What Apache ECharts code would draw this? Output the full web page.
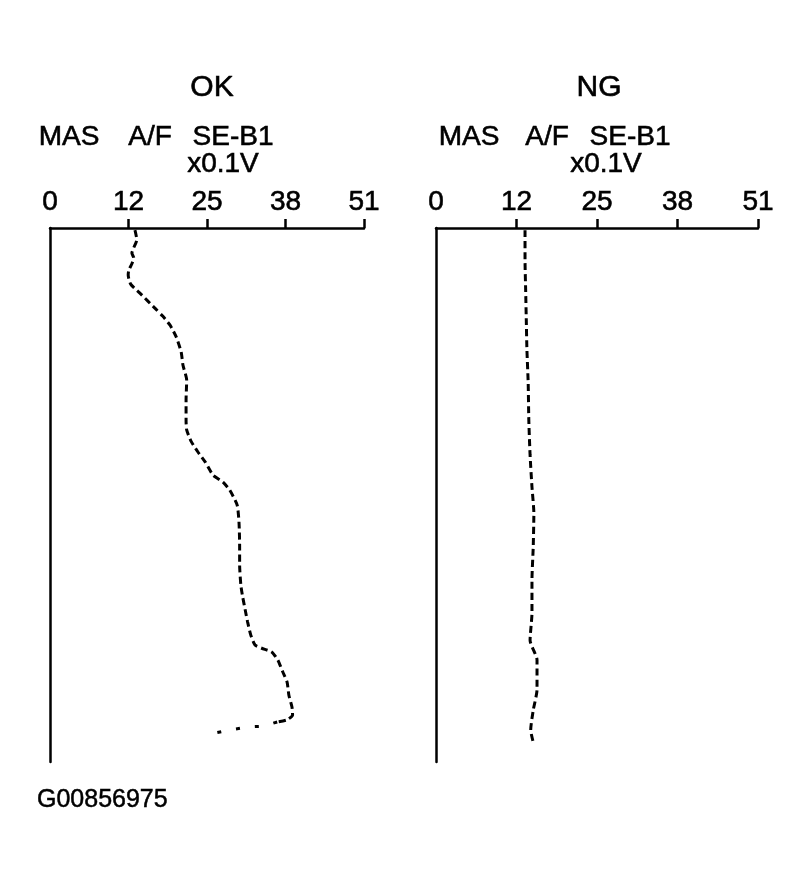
<!DOCTYPE html>
<html>
<head>
<meta charset="utf-8">
<script src="https://cdn.jsdelivr.net/npm/echarts@6/dist/echarts.min.js"></script>
<style>
html, body { margin: 0; padding: 0; background: #fff; }
#chart { width: 802px; height: 883px; }
</style>
</head>
<body>
<div id="chart"></div>
<script>
// scale labels printed over the top axis (x0.1V)
var tickLabels = ["0", "12", "25", "38", "51"];

// OK trace: time goes down the page (0..100), volts across
var okTime = [0.4, 2.2, 3.7, 4.7, 5.6, 6.7, 7.9, 8.8, 10.5, 12.2, 13.7, 15.2, 16.5, 18.2, 20.4, 23.2, 25.7, 28.5,
    32.2, 36.0, 37.8, 39.9, 41.9, 43.8, 46.3, 47.6, 49.1, 51.9, 55.2, 59.4, 63.1, 66.9, 69.1, 71.5, 73.8, 76.2,
    78.1, 78.7, 79.4, 80.9, 83.1, 85.0, 87.5, 89.7, 91.2, 92.1, 92.5];
var okVolts = [13.8, 14.1, 13.6, 13.3, 13.6, 13.3, 12.8, 12.7, 13.1, 14.6, 15.9, 17.2, 18.3, 19.5, 20.5, 21.3, 21.6, 22.2,
    22.1, 22.1, 22.2, 22.9, 24.0, 25.2, 26.5, 28.1, 29.2, 30.4, 30.7, 30.8, 30.8, 31.0, 31.3, 31.7, 32.1, 32.6,
    33.3, 34.4, 36.0, 37.0, 37.8, 38.5, 38.8, 39.3, 39.4, 38.5, 36.9];
// last fast swing back to the left, drawn sparser
var okTailTime = [92.5, 93.3, 93.4, 94.0, 94.8];
var okTailVolts = [36.9, 34.6, 32.5, 29.2, 25.8];

// NG trace
var ngTime = [0.4, 6.0, 11.6, 17.2, 22.8, 29.0, 36.0, 42.5, 48.5, 53.4, 59.7, 65.9, 72.1, 77.2, 80.9, 86.5, 90.3, 94.0, 96.3];
var ngVolts = [14.1, 14.1, 14.2, 14.3, 14.4, 14.6, 14.7, 14.9, 15.2, 15.5, 15.4, 15.2, 15.2, 14.9, 16.0, 16.0, 15.4, 15.0, 15.4];

function pairs(xs, ys) {
    var out = [];
    for (var i = 0; i < xs.length; i++) out.push([xs[i], ys[i]]);
    return out;
}

var FONT = "'Liberation Sans', Arial, sans-serif";

function xAxisFor(gi) {
    return {
        gridIndex: gi,
        type: "value",
        position: "top",
        min: 0,
        max: 51,
        interval: 12.75,
        axisLine: { show: true, lineStyle: { color: "#000", width: 2.5 } },
        axisTick: { show: true, inside: false, length: 9, lineStyle: { color: "#000", width: 2.5 },
            customValues: [12.75, 25.5, 38.25, 51] },
        splitLine: { show: false },
        axisLabel: {
            show: true,
            color: "#000",
            fontFamily: FONT,
            fontSize: 28,
            margin: 12,
            textBorderColor: "#000",
            textBorderWidth: 0.6,
            formatter: function (v) { return tickLabels[Math.round(v / 12.75)]; }
        }
    };
}

function yAxisFor(gi) {
    return {
        gridIndex: gi,
        type: "value",
        inverse: true,
        min: 0,
        max: 100,
        axisLine: { show: true, lineStyle: { color: "#000", width: 2.5 } },
        axisTick: { show: false },
        axisLabel: { show: false },
        splitLine: { show: false }
    };
}

function word(text, x, y, size) {
    return {
        type: "text",
        x: x,
        y: y,
        style: { text: text, fill: "#000", font: (size || 28) + "px " + FONT, align: "center", verticalAlign: "middle",
            stroke: "#000", lineWidth: 0.6 }
    };
}

var dashLine = { color: "#000", width: 3, type: [7, 4] };

var chart = echarts.init(document.getElementById("chart"));
chart.setOption({
    backgroundColor: "#fff",
    animation: false,
    grid: [
        { left: 50, top: 228, width: 314, height: 534 },
        { left: 436, top: 228, width: 322, height: 534 }
    ],
    xAxis: [xAxisFor(0), xAxisFor(1)],
    yAxis: [yAxisFor(0), yAxisFor(1)],
    series: [
        { name: "OK", type: "line", xAxisIndex: 0, yAxisIndex: 0, showSymbol: false, smooth: 0.2,
          lineStyle: dashLine, data: pairs(okVolts, okTime) },
        { name: "OK tail", type: "line", xAxisIndex: 0, yAxisIndex: 0, showSymbol: false,
          lineStyle: { color: "#000", width: 3, type: [4, 15] }, data: pairs(okTailVolts, okTailTime) },
        { name: "NG", type: "line", xAxisIndex: 1, yAxisIndex: 1, showSymbol: false, smooth: 0.2,
          lineStyle: { color: "#000", width: 3, type: [7, 4] }, data: pairs(ngVolts, ngTime) }
    ],
    graphic: [
        word("OK", 212, 88, 30),
        word("MAS", 69, 137),
        word("A/F", 150, 137),
        word("SE-B1", 233, 137),
        word("x0.1V", 223, 164),
        word("NG", 599, 88, 30),
        word("MAS", 469, 137),
        word("A/F", 547, 137),
        word("SE-B1", 630, 137),
        word("x0.1V", 606, 164),
        { type: "text", x: 37, y: 800,
          style: { text: "G00856975", fill: "#000", font: "25px " + FONT, align: "left", verticalAlign: "middle",
              stroke: "#000", lineWidth: 0.5 } }
    ]
});

window.onresize = function () {
    chart.resize();
};
</script>
</body>
</html>
